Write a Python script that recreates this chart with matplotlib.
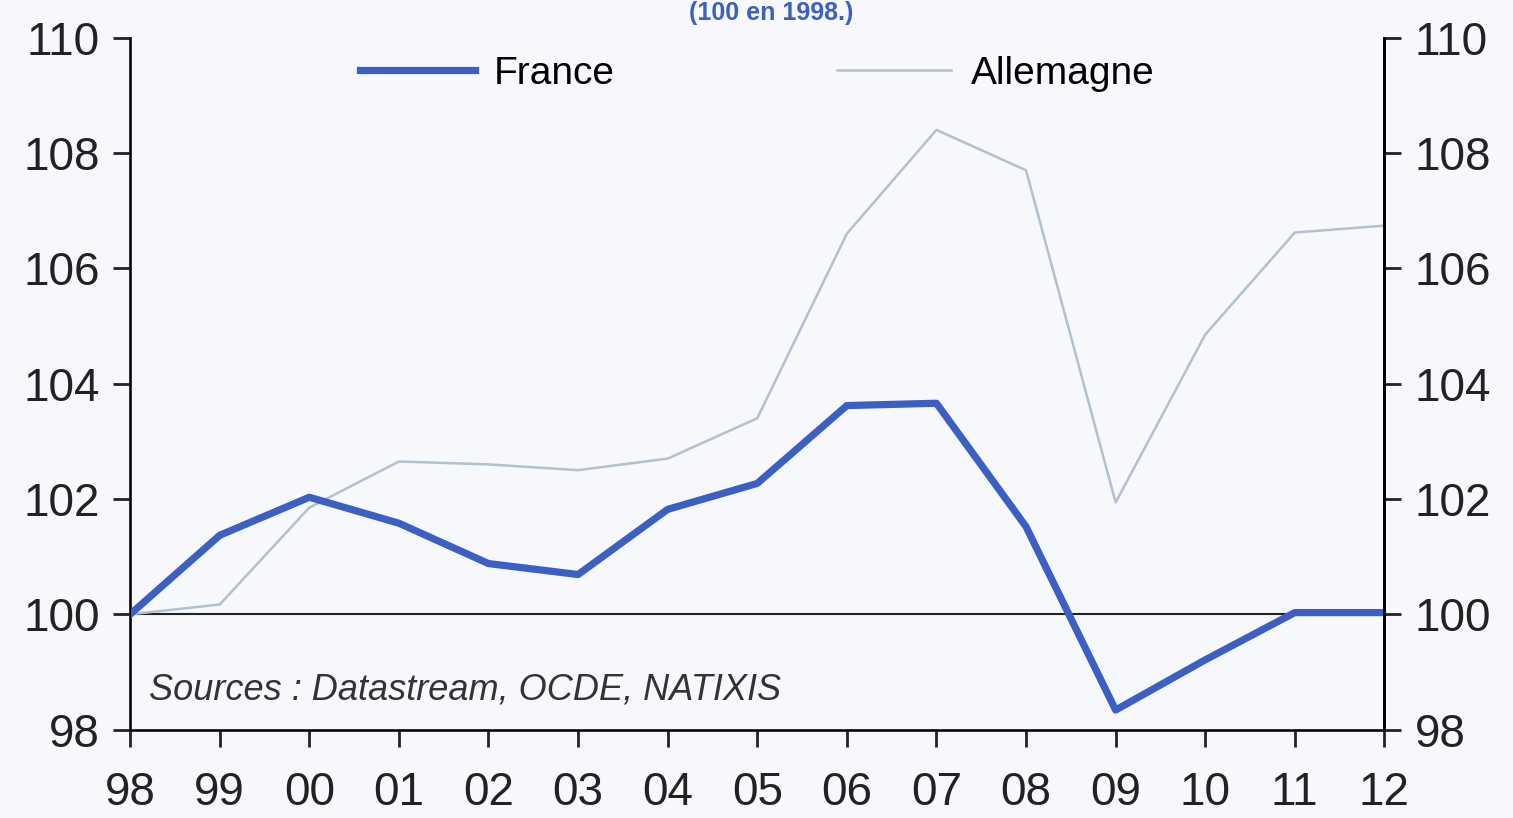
import matplotlib.pyplot as plt

years = ["98", "99", "00", "01", "02", "03", "04", "05", "06", "07", "08", "09", "10", "11", "12"]
france = [100.0, 101.37, 102.03, 101.58, 100.88, 100.69, 101.82, 102.27, 103.62, 103.66,
          101.52, 98.34, 99.21, 100.03, 100.03]
allemagne = [100.0, 100.17, 101.85, 102.65, 102.6, 102.5, 102.7, 103.4, 106.6, 108.4,
             107.7, 101.94, 104.85, 106.62, 106.74]
y_ticks = [98, 100, 102, 104, 106, 108, 110]

plt.rcParams["font.family"] = ["Liberation Sans", "DejaVu Sans"]

bg = "#f6f8fc"
blue = "#3b5fc2"
grey = "#b3c0cf"

fig = plt.figure(figsize=(15.13, 8.18), dpi=100, facecolor=bg)
ax = fig.add_axes([0.086, 0.108, 0.829, 0.846])
ax.set_facecolor(bg)
x = list(range(len(years)))

ax.axhline(100, color="#222222", lw=1.5, zorder=1)
ax.plot(x, allemagne, color=grey, lw=1.8, label="Allemagne", zorder=2)
ax.plot(x, france, color=blue, lw=5.2, label="France", zorder=3)

ax.set_xlim(0, len(years) - 1)
ax.set_ylim(98, 110)
ax.set_xticks(x)
ax.set_xticklabels(years)
ax.set_yticks(y_ticks)
ax.tick_params(axis="both", labelsize=33, length=12, width=2, direction="out", colors="#222222")
ax.tick_params(axis="x", pad=18)
ax.tick_params(axis="y", pad=10)
ax.spines["top"].set_visible(False)
for s in ["left", "right", "bottom"]:
    ax.spines[s].set_linewidth(2)
    ax.spines[s].set_color("#222222")

ax2 = ax.twinx()
ax2.set_ylim(98, 110)
ax2.set_yticks(y_ticks)
ax2.tick_params(axis="y", labelsize=33, length=12, width=2, pad=10, colors="#222222")
ax2.spines["top"].set_visible(False)
ax2.spines["right"].set_linewidth(2)

handles, labels = ax.get_legend_handles_labels()
ax.legend(handles[::-1], labels[::-1], ncol=2, loc="upper center", bbox_to_anchor=(0.5, 1.024),
          frameon=False, fontsize=28, columnspacing=5.7, handlelength=2.95, handletextpad=0.5)

ax.text(0.015, 0.058, "Sources : Datastream, OCDE, NATIXIS", transform=ax.transAxes,
        fontsize=26, style="italic", color="#333333", va="center")

fig.text(0.51, 0.999, "(100 en 1998.)", ha="center", va="top", fontsize=18,
         fontweight="bold", color=blue)

fig.savefig("out.png", dpi=100, facecolor=bg)
